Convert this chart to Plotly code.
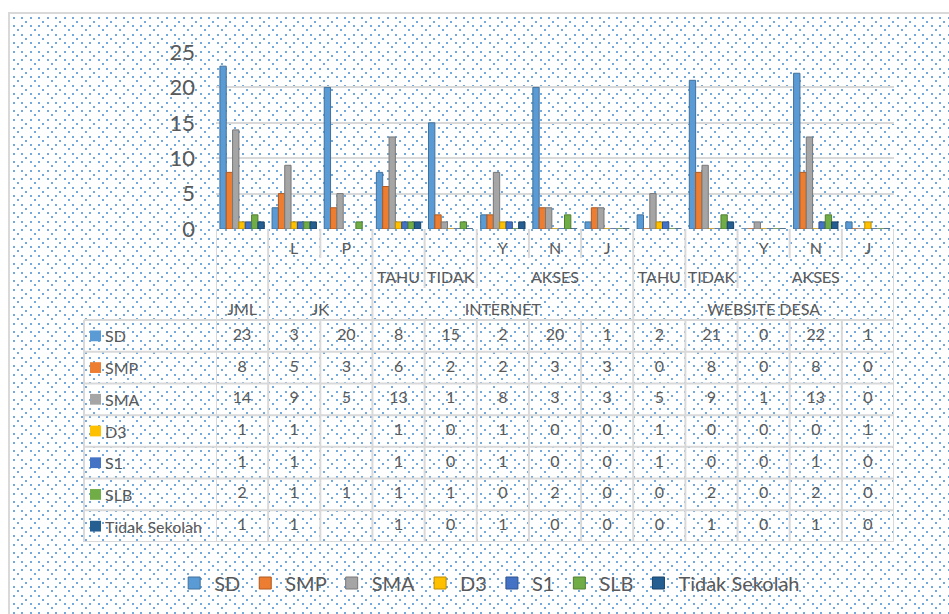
import base64
import plotly.graph_objects as go

# category axis (three levels, Excel style)
level1 = ['', 'L', 'P', '', '', 'Y', 'N', 'J', '', '', 'Y', 'N', 'J']
level2_groups = [('TAHU', 3, 3), ('TIDAK', 4, 4), ('AKSES', 5, 7),
                 ('TAHU', 8, 8), ('TIDAK', 9, 9), ('AKSES', 10, 12)]
level3_groups = [('JML', 0, 0), ('JK', 1, 2), ('INTERNET', 3, 7), ('WEBSITE DESA', 8, 12)]

series_names = ['SD', 'SMP', 'SMA', 'D3', 'S1', 'SLB', 'Tidak Sekolah']
sd = [23, 3, 20, 8, 15, 2, 20, 1, 2, 21, 0, 22, 1]
smp = [8, 5, 3, 6, 2, 2, 3, 3, 0, 8, 0, 8, 0]
sma = [14, 9, 5, 13, 1, 8, 3, 3, 5, 9, 1, 13, 0]
d3 = [1, 1, None, 1, 0, 1, 0, 0, 1, 0, 0, 0, 1]
s1 = [1, 1, None, 1, 0, 1, 0, 0, 1, 0, 0, 1, 0]
slb = [2, 1, 1, 1, 1, 0, 2, 0, 0, 2, 0, 2, 0]
tidak_sekolah = [1, 1, None, 1, 0, 1, 0, 0, 0, 1, 0, 1, 0]

values = [sd, smp, sma, d3, s1, slb, tidak_sekolah]
colors = ['#5B9BD5', '#ED7D31', '#A5A5A5', '#FFC000', '#4472C4', '#70AD47', '#255E91']
edges = ['#41719C', '#AE5A21', '#787878', '#BC8C00', '#2F528F', '#507E32', '#1A4369']

W, H = 949, 614
TXT = '#595959'
GRID = '#D9D9D9'
FONT = 'Lato'
ncat = len(level1)
xs = list(range(ncat))


def px_x(p):
    return p / W


# y2 (table) works in row units, 0 = top of data rows
HDR_TOP, LV1_BOT, LV2_BOT = -2.87, -1.96, -1.01
nrows = len(series_names)

fig = go.Figure()

for name, vals, c, e in zip(series_names, values, colors, edges):
    fig.add_trace(go.Bar(x=xs, y=vals, name=name, marker_color=c,
                         marker_line=dict(color=e, width=1)))

# table values
for r, vals in enumerate(values):
    fig.add_trace(go.Scatter(
        x=xs, y=[r + 0.5] * ncat, yaxis='y2', mode='text',
        text=['' if v is None else str(v) for v in vals],
        textfont=dict(family=FONT, size=16, color=TXT),
        showlegend=False, hoverinfo='skip', cliponaxis=False))

# category labels
lab_x, lab_y, lab_t = [], [], []
for i, t in enumerate(level1):
    if t:
        lab_x.append(i); lab_y.append(-2.21); lab_t.append(t)
for t, a, b in level2_groups:
    lab_x.append((a + b) / 2); lab_y.append(-1.29); lab_t.append(t)
for t, a, b in level3_groups:
    lab_x.append((a + b) / 2); lab_y.append(-0.3); lab_t.append(t)
fig.add_trace(go.Scatter(x=lab_x, y=lab_y, yaxis='y2', mode='text', text=lab_t,
                         textfont=dict(family=FONT, size=16, color=TXT),
                         showlegend=False, hoverinfo='skip', cliponaxis=False))

shapes = []
line = dict(color=GRID, width=2)
# vertical dividers
l3_edges = {a for _, a, _ in level3_groups} | {b + 1 for _, _, b in level3_groups}
l2_edges = {a for _, a, _ in level2_groups} | {b + 1 for _, _, b in level2_groups}
for b in range(ncat + 1):
    if b in l3_edges:
        top_end = 0
    elif b in l2_edges:
        top_end = LV2_BOT
    else:
        top_end = LV1_BOT
    shapes.append(dict(type='line', xref='x', yref='y2', x0=b - 0.5, x1=b - 0.5,
                       y0=HDR_TOP, y1=top_end, line=line))
    shapes.append(dict(type='line', xref='x', yref='y2', x0=b - 0.5, x1=b - 0.5,
                       y0=0, y1=nrows, line=line))
shapes.append(dict(type='line', xref='paper', yref='y2', x0=px_x(84), x1=px_x(84),
                   y0=0, y1=nrows, line=line))
for r in range(nrows + 1):
    shapes.append(dict(type='line', xref='paper', yref='y2', x0=px_x(84), x1=px_x(894),
                       y0=r, y1=r, line=line))
# row keys
annotations = []
for r, (name, c) in enumerate(zip(series_names, colors)):
    shapes.append(dict(type='rect', xref='paper', yref='y2', x0=px_x(90), x1=px_x(101),
                       y0=r + 0.5 - 0.17, y1=r + 0.5 + 0.17, fillcolor=c, line_width=0))
    annotations.append(dict(text=name, xref='paper', yref='y2', x=px_x(103), y=r + 0.5,
                            xanchor='left', yanchor='middle', showarrow=False,
                            font=dict(family=FONT, size=16, color=TXT)))
# chart frame
shapes.append(dict(type='rect', xref='paper', yref='paper', x0=px_x(9), x1=1.02,
                   y0=-0.02, y1=1 - 13 / H, line=dict(color=GRID, width=2)))

# dotted background pattern
bw, bh = W - 9, H - 13
dots = ''.join(f'<rect x="{x}" y="{y}" width="2" height="2" fill="#5B9BD5"/>'
               for x, y in [(0, 0), (8, 0), (0, 8), (8, 8), (12, 4), (4, 12)])
svg = (f'<svg xmlns="http://www.w3.org/2000/svg" width="{bw}" height="{bh}">'
       f'<defs><pattern id="p" x="4" y="4" width="17" height="17" patternUnits="userSpaceOnUse">'
       f'{dots}</pattern></defs>'
       f'<rect width="{bw}" height="{bh}" fill="url(#p)" fill-opacity="0.85"/></svg>')
src = 'data:image/svg+xml;base64,' + base64.b64encode(svg.encode()).decode()

fig.update_layout(
    width=W, height=H,
    margin=dict(l=0, r=0, t=0, b=0, autoexpand=False),
    paper_bgcolor='white', plot_bgcolor='rgba(0,0,0,0)',
    font=dict(family=FONT, color=TXT),
    barmode='group', bargap=0.15, bargroupgap=0,
    xaxis=dict(domain=[px_x(216), px_x(894)], range=[-0.5, ncat - 0.5],
               showticklabels=False, showgrid=False, zeroline=False, fixedrange=True),
    yaxis=dict(domain=[(H - 229) / H, (H - 52) / H], range=[0, 25], dtick=5,
               showgrid=True, gridcolor=GRID, gridwidth=2, zeroline=False,
               tickfont=dict(family=FONT, size=22, color=TXT), ticklabelstandoff=20),
    yaxis2=dict(domain=[(H - 542) / H, (H - 229) / H], range=[nrows, HDR_TOP],
                anchor='x', visible=False, fixedrange=True),
    legend=dict(orientation='h', x=0.516, xanchor='center', y=(H - 583) / H,
                yanchor='middle', font=dict(family=FONT, size=20, color=TXT),
                bgcolor='rgba(0,0,0,0)', itemwidth=30),
    shapes=shapes, annotations=annotations,
    images=[dict(source=src, xref='paper', yref='paper', x=px_x(9), y=1 - 13 / H,
                 sizex=bw / W, sizey=bh / H, xanchor='left', yanchor='top',
                 sizing='stretch', layer='below')],
)

fig.write_html('out.html', config={'displayModeBar': False},
               post_script="document.body.style.margin='0';")
